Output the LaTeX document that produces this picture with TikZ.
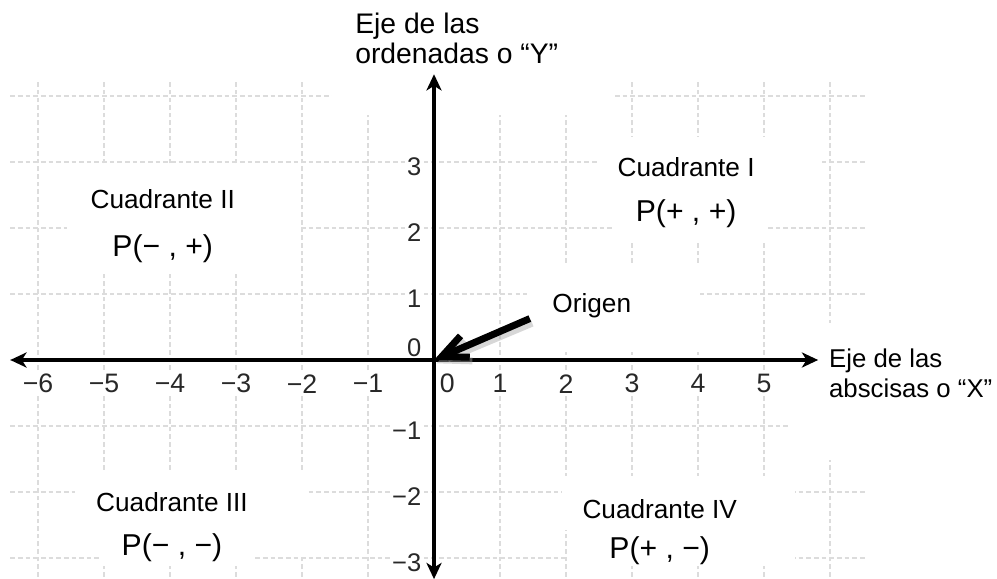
\documentclass[tikz,border=0pt]{standalone}
\usepackage{fontspec}
\setmainfont{Liberation Sans}
\usepackage{tikz}
\usetikzlibrary{positioning, arrows.meta}
\definecolor{GridGray}{HTML}{DCDCDC}
\definecolor{TickGray}{HTML}{282828}

\begin{document}
\begin{tikzpicture}[
            gridline/.style={GridGray, line width=0.5pt, dash pattern=on 2pt off 1.3pt},
            mask/.style={fill=white},
            axis/.style={line width=1.6pt, {Stealth[length=7pt,width=6.5pt,inset=2pt]}-{Stealth[length=7pt,width=6.5pt,inset=2pt]}},
            tick/.style={text=TickGray, font=\fontsize{11.5}{13}\selectfont, fill=white, inner sep=1pt},
            quad/.style={font=\fontsize{11.3}{13}\selectfont, inner sep=0pt},
            sign/.style={font=\fontsize{13}{15}\selectfont, inner sep=0pt},
            title/.style={align=left, inner sep=0pt, anchor=north west},
            pointer/.style={line width=3pt, -{Straight Barb[length=11pt,width=10pt]}}
        ]
            \useasboundingbox (-6.576,-3.318) rectangle (8.53,5.4545);

            % grid
            \draw[gridline] (-6.42,-3.4) grid (6.53,4.24);

            % blank patches in the grid
            \fill[mask] (-1.55,3.71) rectangle (2.69,4.4);
            \fill[mask] (-5.56,1.33) rectangle (-2.03,2.97);
            \fill[mask] (2.47,2.42) rectangle (5.88,3.38);
            \fill[mask] (2.71,1.79) rectangle (5.06,3.38);
            \fill[mask] (1.41,0.12) rectangle (4.03,1.47);
            \fill[mask] (-5.44,-2.97) rectangle (-1.92,-1.67);
            \fill[mask] (-5.06,-3.12) rectangle (-2.74,-2.88);
            \fill[mask] (1.94,-2.58) rectangle (5.47,-1.76);
            \fill[mask] (2.03,-3.12) rectangle (5.47,-1.76);
            \fill[mask] (5.39,-1.52) rectangle (8.6,0.56);

            % tick labels
            \foreach \k/\lab in {-6/−6,-5/−5,-4/−4,-3/−3,-2/−2,-1/−1,1/1,2/2,3/3,4/4,5/5}
                \node[tick] (xtick\k) at (\k,-0.36) {\lab};
            \foreach \k/\lab in {3/3,2/2,1/1,-1/−1,-2/−2,-3/−3}
                \node[tick, anchor=east, font=\fontsize{11}{12}\selectfont] (ytick\k) at (-0.15,\k-0.07) {\lab};
            \node[tick] (xtick0) at (0.2,-0.36) {0};
            \node[tick, anchor=east, font=\fontsize{11}{12}\selectfont] (ytick0) at (-0.15,0.18) {0};

            % quadrants
            \node[quad] (q1) at (3.82,2.92) {Cuadrante I};
            \node[sign, below=0.33cm of q1] (p1) {P(+ , +)};
            \node[quad] (q2) at (-4.11,2.44) {Cuadrante II};
            \node[sign, below=0.38cm of q2] (p2) {P(− , +)};
            \node[quad] (q3) at (-3.97,-2.15) {Cuadrante III};
            \node[sign, below=0.32cm of q3] (p3) {P(− , −)};
            \node[quad] (q4) at (3.42,-2.26) {Cuadrante IV};
            \node[sign, below=0.26cm of q4] (p4) {P(+ , −)};

            % axis titles
            \node[title, font=\fontsize{12.2}{13}\selectfont] (ytitle) at (-1.2,5.27) {Eje de las\\ordenadas o “Y”};
            \node[title, font=\fontsize{11.1}{12.6}\selectfont] (xtitle) at (5.98,0.17) {Eje de las\\abscisas o “X”};

            % axes
            \coordinate (O) at (0,0);
            \coordinate (xleft) at (-6.42,0);
            \coordinate (xright) at (5.82,0);
            \coordinate (ytop) at (0,4.33);
            \coordinate (ybottom) at (0,-3.32);
            \draw[axis] (xleft) -- (xright);
            \draw[axis] (ybottom) -- (ytop);

            % origin pointer
            \node[quad] (origen) at (2.39,0.82) {Origen};
            \draw[pointer, black!35, opacity=0.45] ([shift={(-0.3,-0.07)}]origen.south west) -- ([shift={(0.04,-0.05)}]O);
            \draw[pointer] ([shift={(-0.335,0)}]origen.south west) -- (O);

        \end{tikzpicture}
\end{document}
